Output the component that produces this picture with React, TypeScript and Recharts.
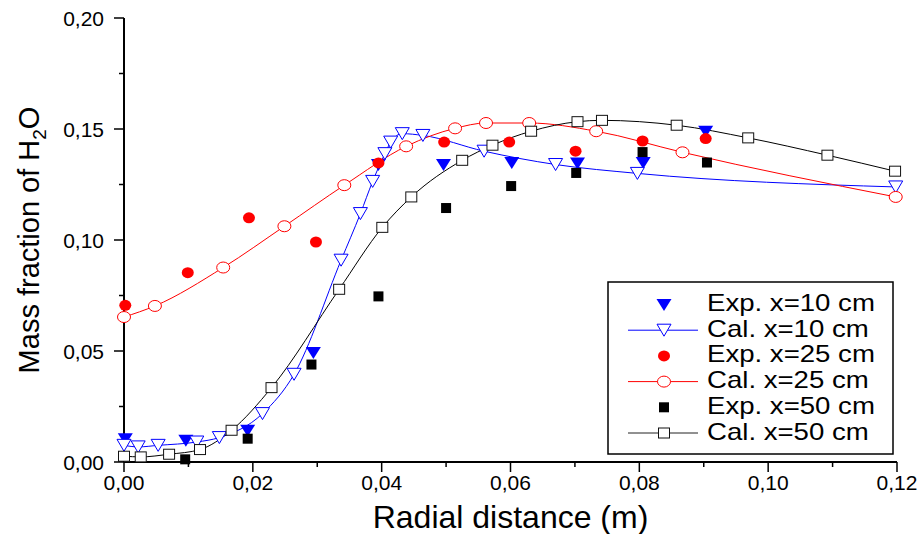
import { ComposedChart, Line, Scatter, XAxis, YAxis, Legend } from 'recharts';

const FONT = '"Liberation Sans", Arial, sans-serif';

// axis ticks
const xTicks = [0, 0.01, 0.02, 0.03, 0.04, 0.05, 0.06, 0.07, 0.08, 0.09, 0.1, 0.11, 0.12];
const yTicks = [0, 0.025, 0.05, 0.075, 0.1, 0.125, 0.15, 0.175, 0.2];

// Exp. x=10 cm
const exp10X = [0.0002, 0.0096, 0.0192, 0.0294, 0.0395, 0.0496, 0.0602, 0.0704, 0.0806, 0.0903];
const exp10Y = [0.0105, 0.0098, 0.0143, 0.0493, 0.134, 0.134, 0.1349, 0.1347, 0.1349, 0.149];
// Cal. x=10 cm
const cal10X = [0, 0.0022, 0.0053, 0.0113, 0.0148, 0.0215, 0.0264, 0.0337, 0.0367, 0.0386, 0.0405, 0.0414, 0.0432, 0.0464, 0.0559, 0.067, 0.0797, 0.1198];
const cal10Y = [0.0075, 0.0068, 0.0075, 0.009, 0.011, 0.0218, 0.0395, 0.0909, 0.1119, 0.1264, 0.1389, 0.1441, 0.1479, 0.1471, 0.14, 0.134, 0.13, 0.1239];
// Exp. x=25 cm
const exp25X = [0.0002, 0.0099, 0.0194, 0.0298, 0.0395, 0.0497, 0.0598, 0.0701, 0.0805, 0.0903];
const exp25Y = [0.0706, 0.0853, 0.11, 0.0991, 0.1347, 0.1441, 0.1441, 0.14, 0.1446, 0.1457];
// Cal. x=25 cm
const cal25X = [0, 0.0048, 0.0154, 0.0249, 0.0342, 0.0438, 0.0514, 0.0562, 0.0629, 0.0733, 0.0867, 0.1198];
const cal25Y = [0.0653, 0.0703, 0.0876, 0.1062, 0.1247, 0.1422, 0.1503, 0.1527, 0.1527, 0.149, 0.1395, 0.1194];
// Exp. x=50 cm
const exp50X = [0.0095, 0.0192, 0.0291, 0.0395, 0.05, 0.0601, 0.0702, 0.0805, 0.0905];
const exp50Y = [0.0012, 0.0105, 0.0439, 0.0746, 0.1144, 0.1243, 0.1302, 0.1396, 0.1349];
// Cal. x=50 cm
const cal50X = [0, 0.0026, 0.007, 0.0118, 0.0167, 0.0229, 0.0334, 0.0401, 0.0446, 0.0525, 0.0572, 0.0632, 0.0704, 0.0742, 0.0858, 0.0969, 0.1092, 0.1197];
const cal50Y = [0.0026, 0.0023, 0.0035, 0.0056, 0.0143, 0.0335, 0.0778, 0.1057, 0.1194, 0.1359, 0.1427, 0.149, 0.1533, 0.1539, 0.1517, 0.146, 0.1382, 0.131];

const legendLabels = ['Exp. x=10 cm', 'Cal. x=10 cm', 'Exp. x=25 cm', 'Cal. x=25 cm', 'Exp. x=50 cm', 'Cal. x=50 cm'];

const zip = (xs: number[], ys: number[]) => xs.map((x, i) => ({ x, y: ys[i] }));

const fmt = (v: number, d: number) => v.toFixed(d).replace('.', ',');

// marker shapes
const FilledTri = ({ cx, cy }: any) => (
  <polygon points={`${cx - 7.5},${cy - 5.5} ${cx + 7.5},${cy - 5.5} ${cx},${cy + 6.5}`} fill="#0000ff" />
);
const OpenTri = ({ cx, cy }: any) => (
  <polygon points={`${cx - 7},${cy - 6} ${cx + 7},${cy - 6} ${cx},${cy + 6}`} fill="#fff" stroke="#0000ff" strokeWidth={1} />
);
const FilledCircle = ({ cx, cy }: any) => <ellipse cx={cx} cy={cy} rx={6} ry={5.5} fill="#ff0000" />;
const OpenCircle = ({ cx, cy }: any) => (
  <ellipse cx={cx} cy={cy} rx={6.5} ry={5.5} fill="#fff" stroke="#ff0000" strokeWidth={1} />
);
const FilledSquare = ({ cx, cy }: any) => <rect x={cx - 5} y={cy - 5} width={10} height={10} fill="#000" />;
const OpenSquare = ({ cx, cy }: any) => (
  <rect x={cx - 5.5} y={cy - 5} width={11} height={10} fill="#fff" stroke="#111" strokeWidth={1} />
);

const legendMarks = [
  { Mark: FilledTri, line: null },
  { Mark: OpenTri, line: '#0000ff' },
  { Mark: FilledCircle, line: null },
  { Mark: OpenCircle, line: '#ff0000' },
  { Mark: FilledSquare, line: null },
  { Mark: OpenSquare, line: '#222' },
];

// ticks
const BottomTick = ({ x, y, payload }: any) => {
  const major = Math.round(payload.value * 100) % 2 === 0;
  return (
    <g>
      <line x1={x} y1={y} x2={x} y2={y + (major ? 10 : 5)} stroke="#000" strokeWidth={1.5} />
      {major && (
        <text x={x} y={y + 28} textAnchor="middle" fontSize={21} fontFamily={FONT} fill="#000">
          {fmt(payload.value, 2)}
        </text>
      )}
    </g>
  );
};
const TopTick = ({ x, y, payload }: any) => {
  const major = Math.round(payload.value * 100) % 2 === 0;
  return <line x1={x} y1={y} x2={x} y2={y + (major ? 10 : 5)} stroke="#000" strokeWidth={1.5} />;
};
const LeftTick = ({ x, y, payload }: any) => {
  const major = Math.round(payload.value * 1000) % 50 === 0;
  return (
    <g>
      <line x1={x} y1={y} x2={x - (major ? 10 : 5)} y2={y} stroke="#000" strokeWidth={1.5} />
      {major && (
        <text x={x - 20} y={y + 7.5} textAnchor="end" fontSize={21} fontFamily={FONT} fill="#000">
          {fmt(payload.value, 2)}
        </text>
      )}
    </g>
  );
};
const RightTick = ({ x, y, payload }: any) => {
  const major = Math.round(payload.value * 1000) % 50 === 0;
  return <line x1={x} y1={y} x2={x - (major ? 10 : 5)} y2={y} stroke="#000" strokeWidth={1.5} />;
};

const XTitle = ({ viewBox }: any) => (
  <text x={viewBox.x + viewBox.width / 2} y={viewBox.y + 66} textAnchor="middle" fontSize={32} fontFamily={FONT} fill="#000">
    Radial distance (m)
  </text>
);
const YTitle = ({ viewBox }: any) => (
  <text
    transform={`translate(${viewBox.x - 25},${viewBox.y + viewBox.height / 2}) rotate(-90)`}
    textAnchor="middle"
    fontSize={29}
    fontFamily={FONT}
    fill="#000"
  >
    Mass fraction of H<tspan dy={7} fontSize={19}>2</tspan>
    <tspan dy={-7}>O</tspan>
  </text>
);

const LegendBox = () => (
  <svg width={288} height={176} style={{ display: 'block' }}>
    <rect x={1} y={1} width={285} height={172} fill="#fff" stroke="#000" strokeWidth={1.5} />
    {legendLabels.map((label, i) => {
      const base = 30 + i * 25.7;
      const { Mark, line } = legendMarks[i];
      return (
        <g key={label}>
          {line && <line x1={21} y1={base - 6.5} x2={91} y2={base - 6.5} stroke={line} strokeWidth={1} />}
          <Mark cx={57} cy={base - 6.5} />
          <text transform={`translate(100,${base}) scale(1.2,1)`} fontSize={23} fontFamily={FONT} fill="#000">
            {label}
          </text>
        </g>
      );
    })}
  </svg>
);

export default function App() {
  return (
    <div style={{ position: 'absolute', left: 0, top: 0, width: 923, height: 534, background: '#fff' }}>
      <ComposedChart width={923} height={534} margin={{ top: 18, right: 26, left: 64, bottom: 12 }}>
        <XAxis
          xAxisId="b"
          dataKey="x"
          type="number"
          domain={[0, 0.12]}
          ticks={xTicks}
          interval={0}
          height={60}
          tickSize={0}
          tickMargin={0}
          tickLine={false}
          tick={<BottomTick />}
          axisLine={{ stroke: '#000', strokeWidth: 2 }}
          label={<XTitle />}
        />
        <XAxis
          xAxisId="t"
          orientation="top"
          mirror
          dataKey="x"
          type="number"
          domain={[0, 0.12]}
          ticks={xTicks}
          interval={0}
          height={0}
          tickSize={0}
          tickMargin={0}
          tickLine={false}
          tick={<TopTick />}
          axisLine={{ stroke: '#000', strokeWidth: 2 }}
        />
        <YAxis
          yAxisId="l"
          dataKey="y"
          type="number"
          domain={[0, 0.2]}
          ticks={yTicks}
          interval={0}
          width={60}
          tickSize={0}
          tickMargin={0}
          tickLine={false}
          tick={<LeftTick />}
          axisLine={{ stroke: '#000', strokeWidth: 2 }}
          label={<YTitle />}
        />
        <YAxis
          yAxisId="r"
          orientation="right"
          mirror
          type="number"
          domain={[0, 0.2]}
          ticks={yTicks}
          interval={0}
          width={0}
          tickSize={0}
          tickMargin={0}
          tickLine={false}
          tick={<RightTick />}
          axisLine={{ stroke: '#000', strokeWidth: 2 }}
        />
        <Legend
          layout="vertical"
          align="center"
          verticalAlign="middle"
          width={288}
          height={176}
          wrapperStyle={{ left: 607, top: 281, width: 288, height: 176 }}
          content={() => <LegendBox />}
        />
        <Scatter
          name="Exp. x=10 cm"
          data={zip(exp10X, exp10Y)}
          dataKey="y"
          xAxisId="b"
          yAxisId="l"
          shape={(p: any) => <FilledTri cx={p.cx} cy={p.cy} />}
          isAnimationActive={false}
        />
        <Line
          name="Cal. x=10 cm"
          data={zip(cal10X, cal10Y)}
          dataKey="y"
          xAxisId="b"
          yAxisId="l"
          type="monotone"
          stroke="#0000ff"
          strokeWidth={1}
          dot={(p: any) => <OpenTri key={`c10-${p.index}`} cx={p.cx} cy={p.cy} />}
          activeDot={false}
          isAnimationActive={false}
        />
        <Scatter
          name="Exp. x=25 cm"
          data={zip(exp25X, exp25Y)}
          dataKey="y"
          xAxisId="b"
          yAxisId="l"
          shape={(p: any) => <FilledCircle cx={p.cx} cy={p.cy} />}
          isAnimationActive={false}
        />
        <Line
          name="Cal. x=25 cm"
          data={zip(cal25X, cal25Y)}
          dataKey="y"
          xAxisId="b"
          yAxisId="l"
          type="monotone"
          stroke="#ff0000"
          strokeWidth={1}
          dot={(p: any) => <OpenCircle key={`c25-${p.index}`} cx={p.cx} cy={p.cy} />}
          activeDot={false}
          isAnimationActive={false}
        />
        <Scatter
          name="Exp. x=50 cm"
          data={zip(exp50X, exp50Y)}
          dataKey="y"
          xAxisId="b"
          yAxisId="l"
          shape={(p: any) => <FilledSquare cx={p.cx} cy={p.cy} />}
          isAnimationActive={false}
        />
        <Line
          name="Cal. x=50 cm"
          data={zip(cal50X, cal50Y)}
          dataKey="y"
          xAxisId="b"
          yAxisId="l"
          type="monotone"
          stroke="#000"
          strokeWidth={1}
          dot={(p: any) => <OpenSquare key={`c50-${p.index}`} cx={p.cx} cy={p.cy} />}
          activeDot={false}
          isAnimationActive={false}
        />
      </ComposedChart>
    </div>
  );
}
